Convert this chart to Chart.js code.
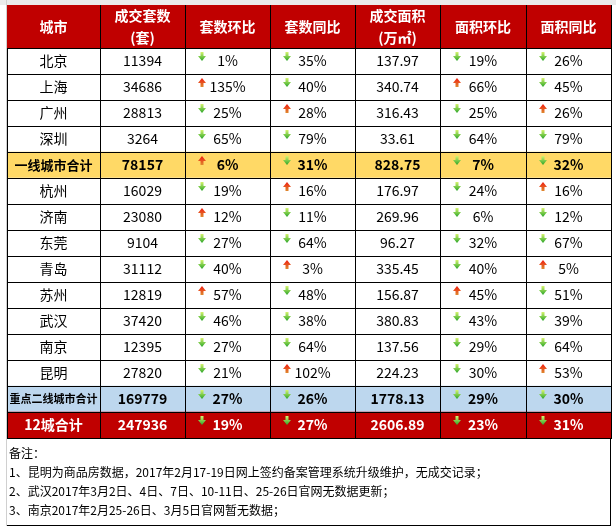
<!DOCTYPE html>
<html>
<head>
<meta charset="utf-8">
<script src="https://cdn.jsdelivr.net/npm/chart.js@4.4.1/dist/chart.umd.min.js"></script>
<style>
  body { margin: 0; background: #fff; }
  canvas { display: block; }
</style>
</head>
<body>
<canvas id="c" width="616" height="532"></canvas>
<script>
// table content
const headers = [["城市"], ["成交套数", "(套)"], ["套数环比"], ["套数同比"], ["成交面积", "(万㎡)"], ["面积环比"], ["面积同比"]];
const cities = ["北京", "上海", "广州", "深圳", "一线城市合计", "杭州", "济南", "东莞", "青岛", "苏州", "武汉", "南京", "昆明", "重点二线城市合计", "12城合计"];
const units = [11394, 34686, 28813, 3264, 78157, 16029, 23080, 9104, 31112, 12819, 37420, 12395, 27820, 169779, 247936];
// sign: negative = down arrow (green), positive = up arrow (red)
const unitsMoM = [-1, 135, -25, -65, 6, -19, 12, -27, -40, 57, -46, -27, -21, -27, -19];
const unitsYoY = [-35, -40, 28, -79, -31, 16, -11, -64, 3, -48, -38, -64, 102, -26, -27];
const area = [137.97, 340.74, 316.43, 33.61, 828.75, 176.97, 269.96, 96.27, 335.45, 156.87, 380.83, 137.56, 224.23, 1778.13, 2606.89];
const areaMoM = [-19, 66, -25, -64, -7, -24, -6, -32, -40, 45, -43, -29, -30, -29, -23];
const areaYoY = [-26, -45, 26, -79, -32, 16, -12, -67, 5, -51, -39, -64, 53, -30, -31];
const notes = [
  "备注：",
  "1、昆明为商品房数据，2017年2月17-19日网上签约备案管理系统升级维护，无成交记录；",
  "2、武汉2017年3月2日、4日、7日、10-11日、25-26日官网无数据更新；",
  "3、南京2017年2月25-26日、3月5日官网暂无数据；"
];

// layout
const colW = [93, 85, 85, 85, 85, 86, 85];
const rowFill = { 4: "#FFD966", 13: "#BDD7EE", 14: "#C00000" };
const boldRows = [4, 13, 14];
const labelSize = { 4: 13, 13: 11 };
const RED = "#C00000";
const FONT = '"Noto Sans CJK SC", "Noto Sans", sans-serif';

const columns = [
  cities.map(c => ({ text: c })),
  units.map(v => ({ text: String(v) })),
  unitsMoM.map(v => ({ text: Math.abs(v) + "%", dir: Math.sign(v) })),
  unitsYoY.map(v => ({ text: Math.abs(v) + "%", dir: Math.sign(v) })),
  area.map(v => ({ text: v.toFixed(2) })),
  areaMoM.map(v => ({ text: Math.abs(v) + "%", dir: Math.sign(v) })),
  areaYoY.map(v => ({ text: Math.abs(v) + "%", dir: Math.sign(v) }))
];

function drawArrow(ctx, cx, top, dir) {
  ctx.save();
  const g = ctx.createLinearGradient(0, top, 0, top + 9);
  ctx.beginPath();
  if (dir < 0) {
    g.addColorStop(0, "#d6f56e");
    g.addColorStop(1, "#28a428");
    ctx.moveTo(cx - 1.5, top);
    ctx.lineTo(cx + 1.5, top);
    ctx.lineTo(cx + 1.5, top + 4);
    ctx.lineTo(cx + 4, top + 4);
    ctx.lineTo(cx, top + 9);
    ctx.lineTo(cx - 4, top + 4);
    ctx.lineTo(cx - 1.5, top + 4);
  } else {
    g.addColorStop(0, "#f01a10");
    g.addColorStop(1, "#de8a2e");
    ctx.moveTo(cx, top);
    ctx.lineTo(cx + 4, top + 5);
    ctx.lineTo(cx + 1.5, top + 5);
    ctx.lineTo(cx + 1.5, top + 9);
    ctx.lineTo(cx - 1.5, top + 9);
    ctx.lineTo(cx - 1.5, top + 5);
    ctx.lineTo(cx - 4, top + 5);
  }
  ctx.closePath();
  ctx.fillStyle = g;
  ctx.fill();
  ctx.restore();
}

const tablePlugin = {
  id: "tablePlugin",
  beforeDraw(chart) {
    const ctx = chart.ctx;
    ctx.save();
    ctx.fillStyle = "#fff";
    ctx.fillRect(0, 0, chart.width, chart.height);
    ctx.fillStyle = "#ebebeb";
    ctx.fillRect(0, 0, chart.width, 5);
    ctx.fillStyle = "#d0d0d0";
    ctx.fillRect(6, 0, 1, 526);
    ctx.restore();
  },
  afterDatasetsDraw(chart) {
    const ctx = chart.ctx;
    const area = chart.chartArea;
    const headTop = 5;
    // column edges from the first row's bars
    const edges = [];
    columns.forEach((col, c) => {
      const el = chart.getDatasetMeta(c).data[0];
      if (c === 0) edges.push(Math.round(el.base));
      edges.push(Math.round(el.x));
    });
    const left = edges[0];
    const right = edges[edges.length - 1];

    ctx.save();
    // header band
    ctx.fillStyle = RED;
    ctx.fillRect(left, headTop, right - left, area.top - headTop);
    ctx.fillStyle = "#fff";
    ctx.textAlign = "center";
    ctx.textBaseline = "middle";
    ctx.font = "bold 14px " + FONT;
    headers.forEach((lines, c) => {
      const cx = (edges[c] + edges[c + 1]) / 2;
      if (lines.length === 1) {
        ctx.fillText(lines[0], cx, 27);
      } else {
        ctx.fillText(lines[0], cx, 16);
        ctx.fillText(lines[1], cx, 38);
      }
    });

    // cell texts and arrows
    columns.forEach((col, c) => {
      const meta = chart.getDatasetMeta(c);
      col.forEach((cell, r) => {
        const el = meta.data[r];
        const cx = (el.x + el.base) / 2;
        const top = el.y - el.height / 2;
        const bold = boldRows.includes(r);
        const size = c === 0 && labelSize[r] ? labelSize[r] : 14;
        ctx.font = (bold ? "bold " : "") + size + "px " + FONT;
        ctx.fillStyle = r === 14 ? "#fff" : "#000";
        ctx.fillText(cell.text, cx, el.y);
        if (cell.dir) drawArrow(ctx, el.base + 17, top + 4, cell.dir);
      });
    });

    // grid lines
    ctx.fillStyle = "#000";
    chart.getDatasetMeta(0).data.forEach((el) => {
      const y = Math.round(el.y - el.height / 2);
      ctx.fillRect(left, y, right - left + 1, 1);
    });
    ctx.fillRect(left, Math.round(area.bottom), right - left + 1, 1);
    edges.forEach((x, i) => {
      const y0 = i === 0 ? area.top : headTop;
      ctx.fillRect(x, y0, 1, area.bottom - y0);
    });

    // notes box
    const nb = 525;
    ctx.fillRect(left, nb, right - left, 1);
    ctx.fillRect(right - 1, area.bottom, 1, nb - area.bottom);
    ctx.textAlign = "left";
    ctx.font = "12px " + FONT;
    notes.forEach((t, i) => {
      ctx.fillText(t, 9, 453 + i * 19);
    });
    ctx.restore();
  }
};

const datasets = columns.map((col, c) => ({
  label: headers[c].join(""),
  data: cities.map(() => colW[c]),
  backgroundColor: cities.map((_, r) => rowFill[r] || "#ffffff"),
  borderWidth: 0,
  barPercentage: 1,
  categoryPercentage: 1
}));

new Chart(document.getElementById("c"), {
  type: "bar",
  data: { labels: cities, datasets: datasets },
  options: {
    indexAxis: "y",
    responsive: false,
    devicePixelRatio: 1,
    animation: false,
    layout: { padding: { left: 7, right: 5, top: 48, bottom: 94 } },
    scales: {
      x: { type: "linear", stacked: true, min: 0, max: colW.reduce((a, b) => a + b, 0), display: false },
      y: { type: "category", stacked: true, display: false, offset: true }
    },
    plugins: {
      legend: { display: false },
      tooltip: { enabled: false }
    }
  },
  plugins: [tablePlugin]
});
</script>
</body>
</html>
